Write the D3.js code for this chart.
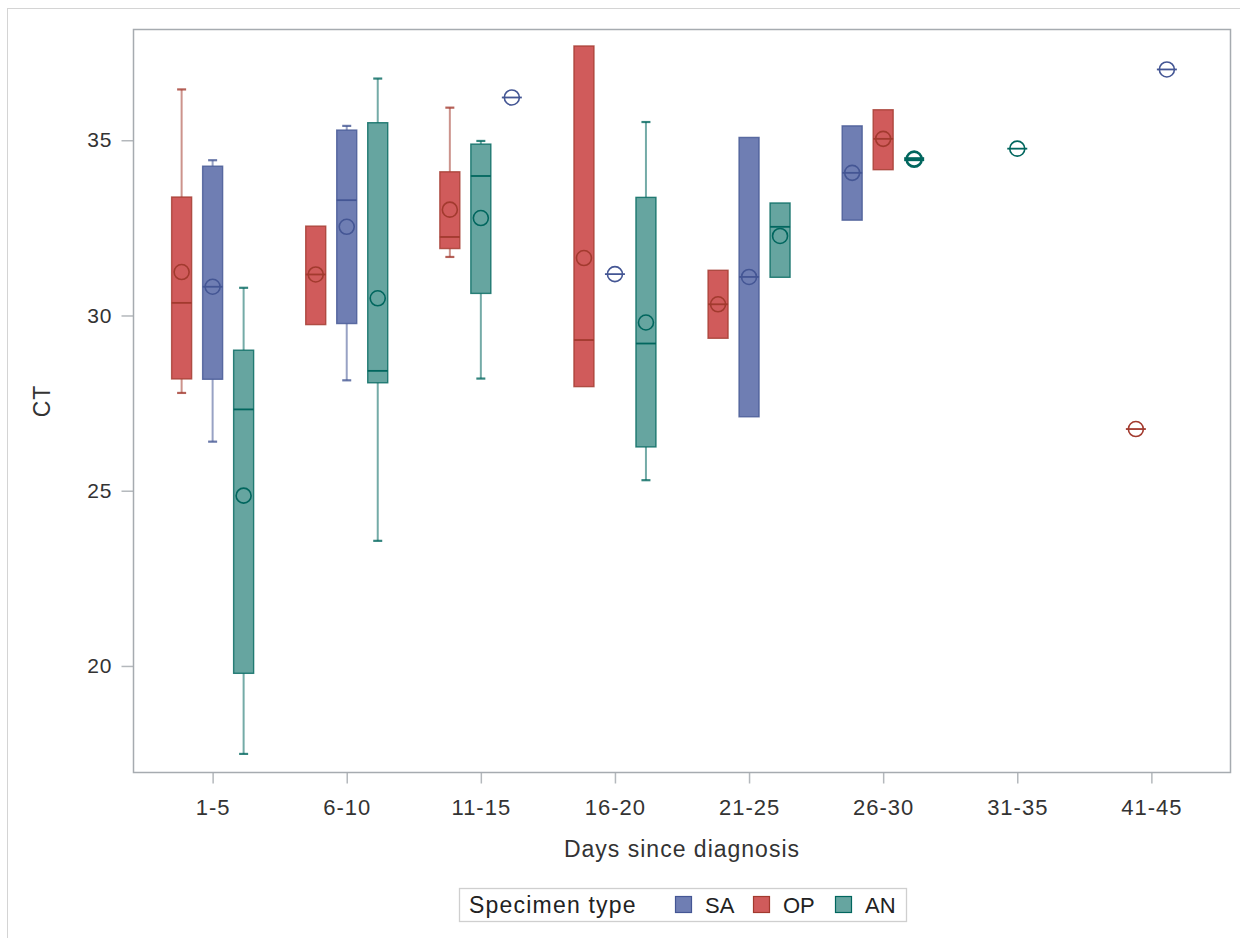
<!DOCTYPE html>
<html>
<head>
<meta charset="utf-8">
<title>CT by days since diagnosis</title>
<style>
  body { margin: 0; background: #fff; }
  svg { display: block; font-family: "Liberation Sans", Arial, sans-serif; }
  .axis text { fill: #333; letter-spacing: 1px; }
  .axis line { stroke: #b4b8bc; stroke-width: 1.5; }
</style>
</head>
<body>
<div id="chart"></div>
<script src="https://cdn.jsdelivr.net/npm/d3@7"></script>
<script>

// categories on the x axis
var categories = ["1-5", "6-10", "11-15", "16-20", "21-25", "26-30", "31-35", "41-45"];
var specimens  = ["SA", "OP", "AN"];
var yTicks     = [20, 25, 30, 35];

// order of the boxes inside each cluster (as drawn by the original)
var clusterOrder = [
  ["OP", "SA", "AN"], ["OP", "SA", "AN"], ["OP", "AN", "SA"], ["OP", "SA", "AN"],
  ["OP", "SA", "AN"], ["SA", "OP", "AN"], ["AN"], ["OP", "SA"]
];

// [min, q1, median, q3, max, mean] per category, null = no data
var saStats = [
  [26.40, 28.18, 30.82, 34.26, 34.43, 30.82],
  [28.15, 29.77, 33.29, 35.29, 35.41, 32.53],
  [36.22, 36.22, 36.22, 36.22, 36.22, 36.22],
  [31.18, 31.18, 31.18, 31.18, 31.18, 31.18],
  [27.11, 27.11, 31.10, 35.08, 35.08, 31.10],
  [32.72, 32.72, 34.07, 35.41, 35.41, 34.07],
  null,
  [37.02, 37.02, 37.02, 37.02, 37.02, 37.02]
];
var opStats = [
  [27.79, 28.19, 30.36, 33.38, 36.45, 31.24],
  [29.74, 29.74, 31.17, 32.55, 32.55, 31.17],
  [31.67, 31.91, 32.24, 34.10, 35.93, 33.02],
  [27.97, 27.97, 29.30, 37.69, 37.69, 31.64],
  [29.35, 29.35, 30.32, 31.29, 31.29, 30.32],
  [34.16, 34.16, 35.04, 35.87, 35.87, 35.04],
  null,
  [26.76, 26.76, 26.76, 26.76, 26.76, 26.76]
];
var anStats = [
  [17.49, 19.79, 27.32, 29.01, 30.79, 24.86],
  [23.57, 28.08, 28.42, 35.50, 36.76, 30.49],
  [28.20, 30.63, 33.98, 34.89, 34.98, 32.78],
  [25.30, 26.25, 29.20, 33.37, 35.52, 29.80],
  [31.09, 31.09, 32.53, 33.21, 33.21, 32.27],
  [34.46, 34.46, 34.46, 34.46, 34.46, 34.46],
  [34.76, 34.76, 34.76, 34.76, 34.76, 34.76],
  null
];

var statsBy = { SA: saStats, OP: opStats, AN: anStats };
var fill     = { SA: "#6F7EB3", OP: "#D05B5B", AN: "#66A5A0" };
var contrast = { SA: "#445694", OP: "#A23A2E", AN: "#01665E" };

var W = 1240, H = 938;
var plot = { left: 133.5, top: 29.5, right: 1230.5, bottom: 772.5 };
var boxW = 20, slot = 31;

var svg = d3.select("#chart").append("svg")
    .attr("width", W)
    .attr("height", H);

// outer border of the graph image
svg.append("rect")
    .attr("x", 7.5).attr("y", 8.5)
    .attr("width", W).attr("height", H)
    .attr("fill", "none")
    .attr("stroke", "#d4d4d4");

var x = d3.scalePoint()
    .domain(categories)
    .range([plot.left, plot.right])
    .padding(0.59);

var y = d3.scaleLinear()
    .domain([16.96, 38.16])
    .range([plot.bottom, plot.top]);

// axes
var yAxis = svg.append("g")
    .attr("class", "axis")
    .attr("transform", "translate(" + plot.left + ",0)")
    .call(d3.axisLeft(y).tickValues(yTicks).tickSize(12).tickPadding(9));
yAxis.select(".domain").remove();
yAxis.selectAll("text").style("font-size", "21px");

var xAxis = svg.append("g")
    .attr("class", "axis")
    .attr("transform", "translate(0," + plot.bottom + ")")
    .call(d3.axisBottom(x).tickSize(11).tickPadding(16));
xAxis.select(".domain").remove();
xAxis.selectAll("text").style("font-size", "22px");

// frame
svg.append("rect")
    .attr("x", plot.left).attr("y", plot.top)
    .attr("width", plot.right - plot.left)
    .attr("height", plot.bottom - plot.top)
    .attr("fill", "none")
    .attr("stroke", "#a6abb0")
    .attr("stroke-width", 1.5);

// axis titles
svg.append("text")
    .attr("x", (plot.left + plot.right) / 2)
    .attr("y", 857)
    .attr("text-anchor", "middle")
    .style("font-size", "23px")
    .style("letter-spacing", "1px")
    .attr("fill", "#333")
    .text("Days since diagnosis");

svg.append("text")
    .attr("transform", "translate(50," + (plot.top + plot.bottom) / 2 + ") rotate(-90)")
    .attr("text-anchor", "middle")
    .style("font-size", "23px")
    .style("letter-spacing", "1px")
    .attr("fill", "#333")
    .text("CT");

// boxes
var g = svg.append("g");

categories.forEach(function(cat, ci) {
    var order = clusterOrder[ci];
    var inner = d3.scaleBand()
        .domain(order)
        .range([-order.length * slot / 2, order.length * slot / 2]);

    order.forEach(function(sp) {
        var s = statsBy[sp][ci];
        if (!s) return;
        var cx = x(cat) + inner(sp) + inner.bandwidth() / 2;
        var bx = g.append("g");
        var lo = s[0], q1 = s[1], med = s[2], q3 = s[3], hi = s[4], mean = s[5];
        var bold = hi === lo && ci === 5;

        // whiskers
        [[q3, hi], [q1, lo]].forEach(function(w) {
            if (Math.abs(w[0] - w[1]) < 0.01) return;
            bx.append("line")
                .attr("x1", cx).attr("x2", cx)
                .attr("y1", y(w[0])).attr("y2", y(w[1]))
                .attr("stroke", contrast[sp])
                .attr("stroke-opacity", 0.55)
                .attr("stroke-width", 2);
            bx.append("line")
                .attr("x1", cx - 4.5).attr("x2", cx + 4.5)
                .attr("y1", y(w[1])).attr("y2", y(w[1]))
                .attr("stroke", contrast[sp])
                .attr("stroke-opacity", 0.8)
                .attr("stroke-width", 2.2);
        });

        // box
        bx.append("rect")
            .attr("x", cx - boxW / 2)
            .attr("y", y(q3))
            .attr("width", boxW)
            .attr("height", Math.max(0, y(q1) - y(q3)))
            .attr("fill", fill[sp])
            .attr("stroke", contrast[sp])
            .attr("stroke-opacity", 0.8)
            .attr("stroke-width", 1.4);

        // median
        bx.append("line")
            .attr("x1", cx - boxW / 2).attr("x2", cx + boxW / 2)
            .attr("y1", y(med)).attr("y2", y(med))
            .attr("stroke", contrast[sp])
            .attr("stroke-width", bold ? 4 : 1.8);

        // mean
        bx.append("circle")
            .attr("cx", cx).attr("cy", y(mean))
            .attr("r", 7.5)
            .attr("fill", "none")
            .attr("stroke", contrast[sp])
            .attr("stroke-width", bold ? 2.6 : 1.6);
    });
});

// legend
var legend = svg.append("g");
legend.append("rect")
    .attr("x", 459.5).attr("y", 888.5)
    .attr("width", 447).attr("height", 33)
    .attr("fill", "#fff")
    .attr("stroke", "#cfcfcf")
    .attr("stroke-width", 1.3);
legend.append("text")
    .attr("x", 469).attr("y", 913)
    .style("font-size", "23px")
    .style("letter-spacing", "1.2px")
    .attr("fill", "#222")
    .text("Specimen type");

var legendX = [675, 753, 835];
specimens.forEach(function(sp, i) {
    legend.append("rect")
        .attr("x", legendX[i] + 0.5).attr("y", 896.5)
        .attr("width", 16).attr("height", 16)
        .attr("fill", fill[sp])
        .attr("stroke", contrast[sp])
        .attr("stroke-width", 1.2);
    legend.append("text")
        .attr("x", legendX[i] + 30).attr("y", 913)
        .style("font-size", "22px")
        .attr("fill", "#222")
        .text(sp);
});

</script>
</body>
</html>
